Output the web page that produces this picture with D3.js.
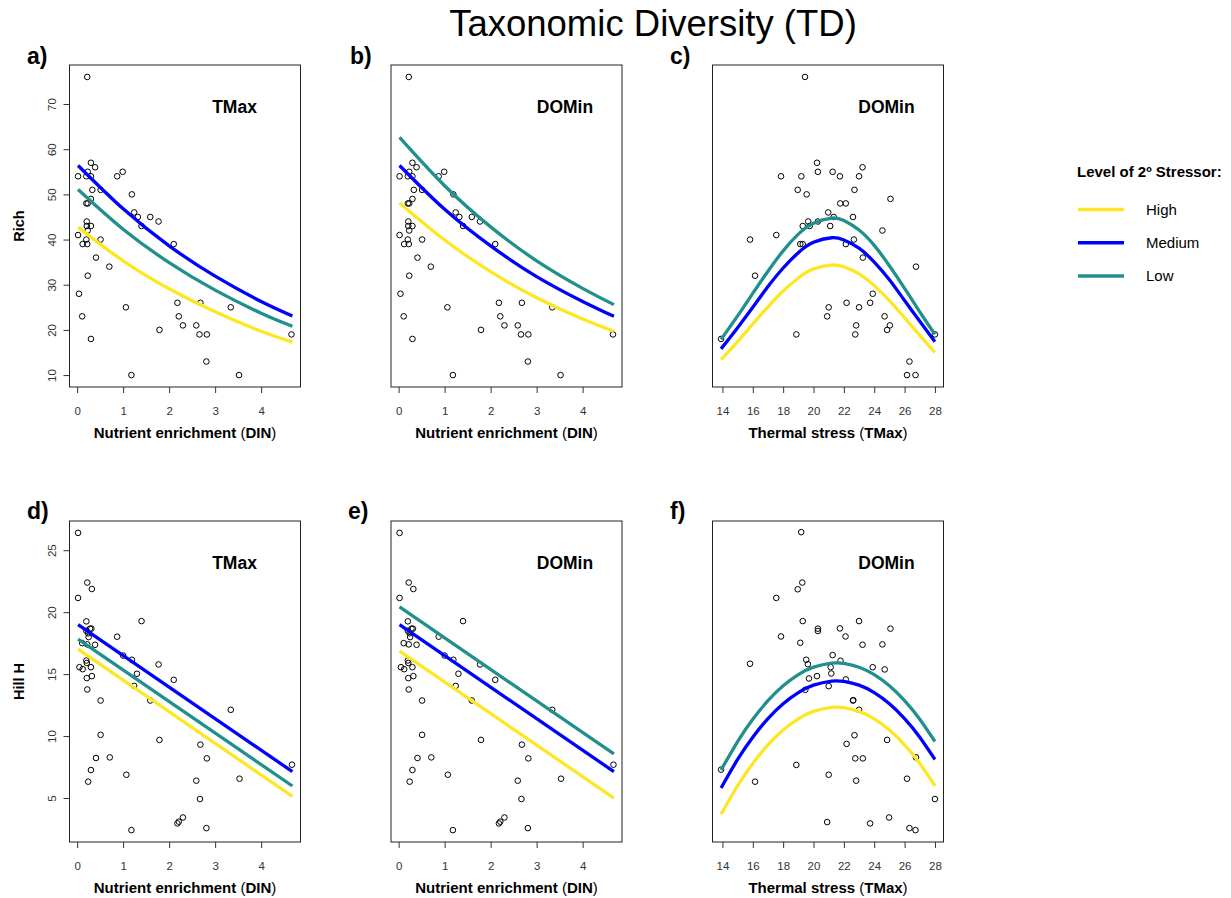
<!DOCTYPE html>
<html>
<head>
<meta charset="utf-8">
<script src="https://cdn.jsdelivr.net/npm/d3@7"></script>
<style>
  body { margin: 0; background: #fff; }
  svg { display: block; font-family: "Liberation Sans", Arial, Helvetica, sans-serif; }
</style>
</head>
<body>
<svg id="chart" width="1231" height="898"></svg>
<script>
// points: [x, y]
const dinRichPts = [
  [0.22,76],[0.30,57],[0.39,56],[0.23,55],[0.99,55],[0.02,54],[0.20,54],[0.30,54],[0.87,54],
  [0.33,51],[0.51,51],[1.19,50],[0.30,49],[0.20,48],[0.23,48],[1.24,46],[1.32,45],[1.59,45],
  [1.77,44],[0.21,44],[1.40,43],[0.21,43],[0.30,43],[0.23,42],[0.02,41],[0.51,40],[0.20,40],
  [0.12,39],[0.22,39],[2.10,39],[0.41,36],[0.70,34],[0.23,32],[0.04,28],[1.06,25],[3.34,25],
  [2.18,26],[2.68,26],[0.11,23],[2.21,23],[2.30,21],[2.59,21],[0.30,18],[1.79,20],[2.66,19],
  [2.82,19],[4.66,19],[2.81,13],[1.18,10],[3.52,10]
];
const tmaxRichPts = [
  [20.23,57],[23.23,56],[20.29,55],[21.26,55],[17.86,54],[19.20,54],[21.74,54],[23.00,54],
  [22.70,51],[18.96,51],[19.55,50],[21.76,48],[22.13,48],[25.07,49],[20.97,46],[22.60,45],
  [21.33,45],[19.65,44],[20.29,44],[19.29,43],[19.75,43],[21.10,43],[24.54,42],[17.55,41],
  [15.82,40],[22.66,40],[19.13,39],[19.29,39],[22.13,39],[23.25,36],[26.75,34],[16.15,32],
  [23.90,28],[22.18,26],[23.73,26],[21.00,25],[23.00,25],[20.90,23],[24.68,23],[22.81,21],
  [25.03,21],[18.87,19],[22.75,19],[24.85,20],[13.91,18],[28.00,19],[26.32,13],[26.16,10],
  [26.72,10],[19.44,76]
];
const dinHillPts = [
  [0.02,26.4],[0.02,21.15],[0.22,22.39],[0.32,21.87],[0.20,19.26],[1.40,19.28],[0.28,18.67],
  [0.31,18.67],[0.20,18.5],[0.87,18.02],[0.25,17.99],[0.11,17.5],[0.39,17.37],[1.00,16.5],
  [1.19,16.16],[0.20,16.1],[0.21,15.9],[1.77,15.78],[0.05,15.56],[0.12,15.4],[0.30,15.56],
  [1.30,15.03],[0.21,14.68],[0.32,14.84],[2.10,14.54],[1.24,14.05],[0.22,13.76],[1.59,12.87],
  [0.51,12.87],[0.51,10.1],[1.79,9.69],[0.41,8.23],[0.71,8.28],[0.30,7.26],[0.24,6.32],
  [1.07,6.88],[2.68,9.31],[2.82,8.2],[2.59,6.4],[3.53,6.56],[3.34,12.12],[4.67,7.69],
  [2.67,4.92],[1.18,2.41],[2.81,2.57],[2.18,2.95],[2.21,3.09],[2.30,3.43],[0.22,17.4],[0.24,18.3]
];
const tmaxHillPts = [
  [19.19,26.46],[19.26,22.39],[18.96,21.85],[17.55,21.15],[19.29,19.28],[23.00,19.28],
  [20.29,18.67],[20.29,18.48],[21.74,18.69],[25.07,18.67],[17.86,18.04],[22.11,18.04],
  [19.13,17.53],[23.23,17.37],[24.54,17.4],[21.26,16.54],[19.52,16.16],[19.63,15.8],
  [21.78,16.08],[21.13,15.56],[23.90,15.56],[24.69,15.38],[21.17,15.05],[19.70,14.65],
  [20.23,14.84],[22.13,14.57],[19.46,13.73],[21.00,14.03],[22.60,12.87],[22.62,12.9],
  [23.00,12.12],[22.70,10.07],[24.85,9.69],[22.18,9.37],[22.75,8.2],[23.25,8.2],[26.75,8.28],
  [18.87,7.67],[13.91,7.29],[21.00,6.88],[16.15,6.32],[22.81,6.4],[26.16,6.56],[28.00,4.92],
  [20.90,3.06],[23.73,2.95],[24.98,3.43],[26.32,2.57],[26.72,2.41],[15.82,15.84]
];

// fitted curves at these x stops
const dinCurveX = [0.02, 1, 2, 3, 4, 4.68];
const richDinTmax = {
  High:   [42.7, 35.3, 29.1, 24.0, 19.7, 17.3],
  Medium: [56.4, 46.8, 38.6, 31.9, 26.3, 23.1],
  Low:    [51.1, 42.3, 34.9, 28.8, 23.7, 20.8]
};
const richDinDomin = {
  High:   [48.1, 39.9, 32.9, 27.1, 22.4, 19.7],
  Medium: [56.4, 46.7, 38.6, 31.8, 26.3, 23.0],
  Low:    [62.6, 51.9, 42.8, 35.3, 29.2, 25.6]
};
const tCurveX = [13.91, 15, 16, 17, 18, 19, 20, 21.2, 22, 23, 24, 25, 26, 27, 28];
const richTDomin = {
  High:   [13.4, 17.4, 21.3, 25.1, 28.6, 31.5, 33.5, 34.35, 33.97, 32.4, 29.8, 26.5, 22.7, 18.8, 15.0],
  Medium: [15.8, 20.5, 25.0, 29.6, 33.7, 37.1, 39.4, 40.4, 39.9, 38.1, 35.0, 31.1, 26.5, 21.9, 17.4],
  Low:    [17.9, 23.1, 28.1, 33.0, 37.5, 41.2, 43.6, 44.75, 44.2, 42.1, 38.7, 34.2, 29.2, 24.0, 19.0]
};
const lineX = [0.02, 4.68];
const hillDinTmax = {
  High:   [17.02, 5.13],
  Medium: [19.0, 7.13],
  Low:    [17.83, 5.97]
};
const hillDinDomin = {
  High:   [16.86, 5.0],
  Medium: [18.99, 7.13],
  Low:    [20.42, 8.56]
};
const hillTDomin = {
  High:   [3.69, 5.99, 7.79, 9.29, 10.49, 11.39, 11.99, 12.32, 12.29, 11.99, 11.39, 10.49, 9.29, 7.79, 5.99],
  Medium: [5.81, 8.11, 9.91, 11.41, 12.61, 13.51, 14.11, 14.44, 14.41, 14.11, 13.51, 12.61, 11.41, 9.91, 8.11],
  Low:    [7.26, 9.56, 11.36, 12.86, 14.06, 14.96, 15.56, 15.89, 15.86, 15.56, 14.96, 14.06, 12.86, 11.36, 9.56]
};

const levels = ["High", "Medium", "Low"];
const levelColors = ["#FDE725", "#0000FF", "#21908C"];
const dinTicks = [0, 1, 2, 3, 4];
const tTicks = [14, 16, 18, 20, 22, 24, 26, 28];
const richTicks = [10, 20, 30, 40, 50, 60, 70];
const hillTicks = [5, 10, 15, 20, 25];

const svg = d3.select("#chart");
const color = d3.scaleOrdinal().domain(levels).range(levelColors);

// R-style 4% padding
function padded(vals) {
  const [lo, hi] = d3.extent(vals);
  const p = (hi - lo) * 0.04;
  return [lo - p, hi + p];
}
const dinDomain = padded(dinRichPts.map(d => d[0]).concat(dinHillPts.map(d => d[0])));
const tDomain = padded(tmaxRichPts.map(d => d[0]).concat(tmaxHillPts.map(d => d[0])));
const richDomain = padded(dinRichPts.map(d => d[1]));
const hillDomain = padded(dinHillPts.map(d => d[1]));

const colLeft = [69.5, 391, 712.5];
const boxW = 231;
const rowTop = [65, 521];
const rowBottom = [387, 842];

const panels = [
  { tag: "a)", col: 0, row: 0, pts: dinRichPts, xd: dinDomain, yd: richDomain, xt: dinTicks, yt: richTicks, cx: dinCurveX, curves: richDinTmax, smooth: true, label: "TMax", yTitle: "Rich", xTitle: "din" },
  { tag: "b)", col: 1, row: 0, pts: dinRichPts, xd: dinDomain, yd: richDomain, xt: dinTicks, yt: null, cx: dinCurveX, curves: richDinDomin, smooth: true, label: "DOMin", xTitle: "din" },
  { tag: "c)", col: 2, row: 0, pts: tmaxRichPts, xd: tDomain, yd: richDomain, xt: tTicks, yt: null, cx: tCurveX, curves: richTDomin, smooth: true, label: "DOMin", xTitle: "tmax" },
  { tag: "d)", col: 0, row: 1, pts: dinHillPts, xd: dinDomain, yd: hillDomain, xt: dinTicks, yt: hillTicks, cx: lineX, curves: hillDinTmax, smooth: false, label: "TMax", yTitle: "Hill H", xTitle: "din" },
  { tag: "e)", col: 1, row: 1, pts: dinHillPts, xd: dinDomain, yd: hillDomain, xt: dinTicks, yt: null, cx: lineX, curves: hillDinDomin, smooth: false, label: "DOMin", xTitle: "din" },
  { tag: "f)", col: 2, row: 1, pts: tmaxHillPts, xd: tDomain, yd: hillDomain, xt: tTicks, yt: null, cx: tCurveX, curves: hillTDomin, smooth: true, label: "DOMin", xTitle: "tmax" }
];

svg.append("text")
  .attr("x", 653).attr("y", 36)
  .attr("text-anchor", "middle")
  .style("font-size", "36.5px")
  .text("Taxonomic Diversity (TD)");

panels.forEach(p => {
  const x0 = colLeft[p.col], x1 = x0 + boxW;
  const y0 = rowTop[p.row], y1 = rowBottom[p.row];
  const x = d3.scaleLinear().domain(p.xd).range([x0, x1]);
  const y = d3.scaleLinear().domain(p.yd).range([y1, y0]);
  const g = svg.append("g");

  // x axis
  const xa = g.append("g")
    .attr("transform", `translate(0,${y1})`)
    .call(d3.axisBottom(x).tickValues(p.xt).tickFormat(d3.format("d")).tickSize(6).tickPadding(14));
  xa.select(".domain").remove();
  xa.selectAll("line").attr("stroke", "#333");
  xa.selectAll("text").attr("fill", "#333").style("font-size", "11.5px").style("font-family", "inherit");

  // y axis (rotated labels like R)
  if (p.yt) {
    const ya = g.append("g")
      .attr("transform", `translate(${x0},0)`)
      .call(d3.axisLeft(y).tickValues(p.yt).tickSize(6));
    ya.select(".domain").remove();
    ya.selectAll("line").attr("stroke", "#333");
    ya.selectAll("text")
      .attr("fill", "#333")
      .attr("transform", "rotate(-90)")
      .attr("x", 0).attr("y", -13.5).attr("dy", 0)
      .attr("text-anchor", "middle")
      .style("font-size", "11.5px").style("font-family", "inherit");
    svg.append("text")
      .attr("transform", `translate(23.5,${(y0 + y1) / 2}) rotate(-90)`)
      .attr("text-anchor", "middle")
      .style("font-size", "14.5px").style("font-weight", "bold")
      .text(p.yTitle);
  }

  // points
  g.append("g").selectAll("circle")
    .data(p.pts).enter().append("circle")
    .attr("cx", d => x(d[0])).attr("cy", d => y(d[1]))
    .attr("r", 2.8)
    .attr("fill", "none").attr("stroke", "#000").attr("stroke-width", 1);

  // fitted lines
  const line = d3.line()
    .x(d => x(d[0])).y(d => y(d[1]))
    .curve(p.smooth ? d3.curveNatural : d3.curveLinear);
  ["High", "Low", "Medium"].forEach(lv => {
    g.append("path")
      .datum(p.cx.map((v, i) => [v, p.curves[lv][i]]))
      .attr("d", line)
      .attr("fill", "none")
      .attr("stroke", color(lv))
      .attr("stroke-width", 3.3);
  });

  // box
  g.append("rect")
    .attr("x", x0).attr("y", y0).attr("width", boxW).attr("height", y1 - y0)
    .attr("fill", "none").attr("stroke", "#222").attr("stroke-width", 1);

  // stressor label
  g.append("text")
    .attr("x", x0 + (p.label === "TMax" ? 165 : 174)).attr("y", y0 + 47.5)
    .attr("text-anchor", "middle")
    .style("font-size", "17.5px").style("font-weight", "bold")
    .text(p.label);

  // panel tag
  svg.append("text")
    .attr("x", [27, 350, 670][p.col] + (p.row === 1 && p.col === 1 ? -2 : 0))
    .attr("y", p.row === 0 ? 64 : 519)
    .style("font-size", "23px").style("font-weight", "bold")
    .text(p.tag);

  // x title
  const xt = svg.append("text")
    .attr("x", (x0 + x1) / 2).attr("y", y1 + 51)
    .attr("text-anchor", "middle")
    .style("font-size", "15px");
  const parts = p.xTitle === "din"
    ? [["Nutrient enrichment ", "bold"], ["(", "normal"], ["DIN", "bold"], [")", "normal"]]
    : [["Thermal stress ", "bold"], ["(", "normal"], ["TMax", "bold"], [")", "normal"]];
  parts.forEach(([t, w]) => xt.append("tspan").style("font-weight", w).text(t));
});

// legend
const lg = svg.append("g");
lg.append("text")
  .attr("x", 1077).attr("y", 176.5)
  .style("font-size", "15px").style("font-weight", "bold")
  .text("Level of 2º Stressor:");
const ly = d3.scalePoint().domain(levels).range([209.5, 276]);
levels.forEach(lv => {
  lg.append("line")
    .attr("x1", 1078).attr("x2", 1124)
    .attr("y1", ly(lv)).attr("y2", ly(lv))
    .attr("stroke", color(lv)).attr("stroke-width", 3.3);
  lg.append("text")
    .attr("x", 1146).attr("y", ly(lv) + 5.3)
    .style("font-size", "15px")
    .text(lv);
});
</script>
</body>
</html>
